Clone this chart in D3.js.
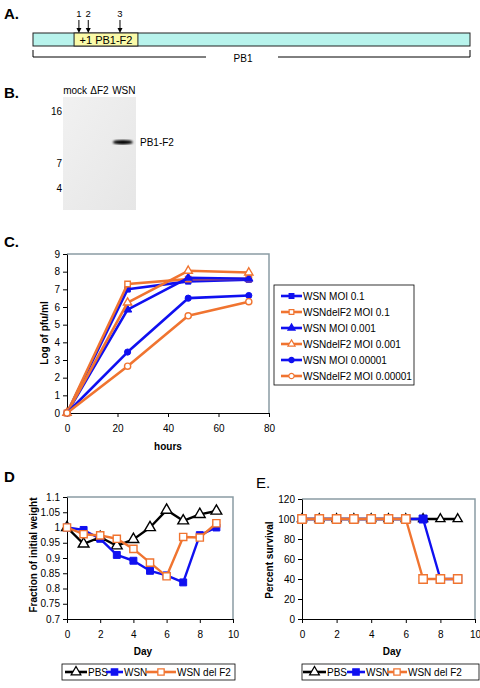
<!DOCTYPE html>
<html><head><meta charset="utf-8">
<script src="https://cdn.jsdelivr.net/npm/d3@7"></script>
<style>
body{margin:0;background:#fff;}
svg{display:block;font-family:"Liberation Sans",Arial,sans-serif;}
</style></head>
<body>
<svg id="fig" width="480" height="688"></svg>
<script>
// ---------- DATA ----------
// Panel A (nucleotide positions along PB1)
const pb1Length = 2341;
const pb1f2Span = [220, 562];
const arrowPositions = [246, 296, 466];
const arrowLabels = ["1", "2", "3"];
// Panel B (western blot)
const lanes = ["mock", "\u0394F2", "WSN"];
const bandIntensity = [0, 0, 1];
const markerKDa = [16, 7, 4];
const bandKDa = 10.6;
// Panel C (growth curves)
const hours = [0, 24, 48, 72];
const growthNames = ["WSN MOI 0.1", "WSNdelF2 MOI 0.1", "WSN MOI 0.001", "WSNdelF2 MOI 0.001", "WSN MOI 0.00001", "WSNdelF2 MOI 0.00001"];
const wsnMoi01 = [0, 7.0, 7.45, 7.55];
const delMoi01 = [0, 7.3, 7.58, 7.6];
const wsnMoi0001 = [0, 5.85, 7.65, 7.6];
const delMoi0001 = [0, 6.25, 8.05, 7.95];
const wsnMoi000001 = [0, 3.45, 6.5, 6.65];
const delMoi000001 = [0, 2.65, 5.5, 6.3];
const growthYTicks = [0,1,2,3,4,5,6,7,8,9];
const growthXTicks = [0,20,40,60,80];
// Panel D (weight)
const days = [0,1,2,3,4,5,6,7,8,9];
const mouseGroups = ["PBS", "WSN", "WSN del F2"];
const weightPBS = [1.0, 0.946, 0.968, 0.94, 0.961, 1.0, 1.057, 1.022, 1.043, 1.054];
const weightWSN = [1.0, 0.992, 0.963, 0.91, 0.891, 0.858, 0.843, 0.82, 0.975, 1.0];
const weightDel = [1.0, 0.978, 0.974, 0.963, 0.93, 0.885, 0.84, 0.969, 0.967, 1.014];
const weightTicks = [0.7,0.75,0.8,0.85,0.9,0.95,1,1.05,1.1];
const dayTicks = [0,2,4,6,8,10];
// Panel E (survival)
const survPBS = [100,100,100,100,100,100,100,100,100,100];
const survWSN = [100,100,100,100,100,100,100,100,40,40];
const survDel = [100,100,100,100,100,100,100,40,40,40];
const survTicks = [0,20,40,60,80,100,120];

// ---------- STYLE ----------
const BLUE = "#1010f0", ORANGE = "#f07430", BLACK = "#000";
const FRAME = "#8a9ca4";
const svg = d3.select("#fig");

function panelLabel(t, x, y, bold) {
  svg.append("text").attr("x", x).attr("y", y).text(t)
    .attr("font-size", 15).attr("font-weight", bold ? "bold" : "normal");
}

// ---------- PANEL A ----------
panelLabel("A.", 4, 19, true);
{
  const xa = d3.scaleLinear().domain([0, pb1Length]).range([33, 470]);
  const g = svg.append("g");
  g.append("rect").attr("x", xa(0)).attr("y", 33).attr("width", xa(pb1Length) - xa(0)).attr("height", 13)
    .attr("fill", "#b8f3ec").attr("stroke", "#222").attr("stroke-width", 1);
  g.append("rect").attr("x", xa(pb1f2Span[0])).attr("y", 33).attr("width", xa(pb1f2Span[1]) - xa(pb1f2Span[0])).attr("height", 13)
    .attr("fill", "#fafaa8").attr("stroke", "#222").attr("stroke-width", 1);
  g.append("text").attr("x", (xa(pb1f2Span[0]) + xa(pb1f2Span[1])) / 2).attr("y", 44)
    .attr("text-anchor", "middle").attr("font-size", 11).text("+1 PB1-F2");
  arrowPositions.forEach((p, i) => {
    const x = xa(p);
    g.append("line").attr("x1", x).attr("x2", x).attr("y1", 20).attr("y2", 30).attr("stroke", "#000").attr("stroke-width", 1);
    g.append("path").attr("d", `M${x-2.5},28 L${x+2.5},28 L${x},33 Z`).attr("fill", "#000");
    g.append("text").attr("x", x).attr("y", 17).attr("text-anchor", "middle").attr("font-size", 9.5).text(arrowLabels[i]);
  });
  const by = 57, gapL = 206, gapR = 278;
  g.append("path").attr("d", `M${xa(0)},${by-7} V${by} H${gapL} M${gapR},${by} H${xa(pb1Length)} V${by-7}`)
    .attr("fill", "none").attr("stroke", "#000").attr("stroke-width", 1);
  g.append("text").attr("x", 243).attr("y", 62).attr("text-anchor", "middle").attr("font-size", 10).text("PB1");
}

// ---------- PANEL B ----------
panelLabel("B.", 4, 98, true);
{
  const g = svg.append("g");
  const defs = svg.append("defs");
  const grad = defs.append("linearGradient").attr("id", "blotg").attr("x1", 0).attr("y1", 0).attr("x2", 1).attr("y2", 1);
  grad.append("stop").attr("offset", "0%").attr("stop-color", "#f1f1f1");
  grad.append("stop").attr("offset", "100%").attr("stop-color", "#e6e6e6");
  defs.append("filter").attr("id", "blur").append("feGaussianBlur").attr("stdDeviation", 0.8);
  const xb = d3.scaleBand().domain(lanes).range([63, 136]);
  const yb = d3.scaleLinear().domain(markerKDa).range([111, 163, 188]);
  g.append("rect").attr("x", 63).attr("y", 97).attr("width", 73).attr("height", 113).attr("fill", "url(#blotg)");
  g.selectAll(".lane").data(lanes).join("text")
    .attr("x", d => xb(d) + xb.bandwidth() / 2).attr("y", 94).attr("text-anchor", "middle")
    .attr("font-size", 10).text(d => d);
  g.selectAll(".mk").data(markerKDa).join("text")
    .attr("x", 62).attr("y", d => yb(d) + 3.5).attr("text-anchor", "end").attr("font-size", 10).text(d => d);
  g.selectAll(".band").data(lanes.filter((d, i) => bandIntensity[i] > 0)).join("ellipse")
    .attr("cx", d => xb(d) + xb.bandwidth() / 2 - 1).attr("cy", yb(bandKDa)).attr("rx", 10).attr("ry", 2.3)
    .attr("fill", "#000").attr("filter", "url(#blur)");
  g.append("text").attr("x", 140).attr("y", yb(bandKDa) + 3.5).attr("font-size", 10).text("PB1-F2");
}

// ---------- helpers ----------
function symbolPath(type, size) {
  const t = type === "square" ? d3.symbolSquare : type === "triangle" ? d3.symbolTriangle : d3.symbolCircle;
  return d3.symbol().type(t).size(size)();
}
function drawFrame(g, x0, x1, y0, y1) {
  g.append("path").attr("d", `M${x0},${y0} H${x1} V${y1}`).attr("fill", "none").attr("stroke", FRAME).attr("stroke-width", 1.5);
}
function styleAxis(sel) {
  sel.selectAll("text").attr("font-size", 10).attr("fill", "#000").attr("font-family", "Liberation Sans, Arial, sans-serif");
  sel.selectAll("path,line").attr("stroke", "#000");
}
function drawSeries(g, xs, ys, x, y, color, marker, size, filled, sw) {
  const pts = xs.map((d, i) => [x(d), y(ys[i])]);
  g.append("path").attr("d", d3.line()(pts)).attr("fill", "none").attr("stroke", color).attr("stroke-width", sw).attr("stroke-linejoin", "round");
  g.selectAll(null).data(pts).join("path")
    .attr("transform", d => `translate(${d[0]},${d[1]})`)
    .attr("d", symbolPath(marker, size))
    .attr("fill", filled ? color : "#fff").attr("stroke", color).attr("stroke-width", filled ? 1 : 1.4);
}

// ---------- PANEL C ----------
panelLabel("C.", 4, 247, true);
{
  const g = svg.append("g");
  const x = d3.scaleLinear().domain([0, 80]).range([67, 269]);
  const y = d3.scaleLinear().domain([0, 9]).range([413, 254]);
  drawFrame(g, 67, 269, 254, 413);
  const ax = g.append("g").attr("transform", "translate(0,413)")
    .call(d3.axisBottom(x).tickValues(growthXTicks).tickSize(4).tickSizeOuter(0).tickPadding(8));
  const ay = g.append("g").attr("transform", "translate(67,0)")
    .call(d3.axisLeft(y).tickValues(growthYTicks).tickSize(4).tickSizeOuter(0).tickPadding(3));
  styleAxis(ax); styleAxis(ay);
  g.append("text").attr("x", 168).attr("y", 450).attr("text-anchor", "middle").attr("font-size", 10).attr("font-weight", "bold").text("hours");
  g.append("text").attr("transform", "translate(48,333) rotate(-90)").attr("text-anchor", "middle").attr("font-size", 10).attr("font-weight", "bold").text("Log of pfu/ml");
  const series = [wsnMoi01, delMoi01, wsnMoi0001, delMoi0001, wsnMoi000001, delMoi000001];
  const colors = [BLUE, ORANGE, BLUE, ORANGE, BLUE, ORANGE];
  const markers = ["square", "square", "triangle", "triangle", "circle", "circle"];
  const filled = [true, false, true, false, true, false];
  series.forEach((s, i) => drawSeries(g, hours, s, x, y, colors[i], markers[i], 30, filled[i], 2.6));
  // legend
  const lg = g.append("g");
  lg.append("rect").attr("x", 274).attr("y", 285).attr("width", 140).attr("height", 100).attr("fill", "#fff").attr("stroke", "#000").attr("stroke-width", 0.8);
  growthNames.forEach((n, i) => {
    const yy = 296 + i * 16;
    lg.append("line").attr("x1", 281).attr("x2", 302).attr("y1", yy).attr("y2", yy).attr("stroke", colors[i]).attr("stroke-width", 2.6);
    lg.append("path").attr("transform", `translate(291.5,${yy})`).attr("d", symbolPath(markers[i], 22))
      .attr("fill", filled[i] ? colors[i] : "#fff").attr("stroke", colors[i]).attr("stroke-width", 1.2);
    lg.append("text").attr("x", 303).attr("y", yy + 3.5).attr("font-size", 10).text(n);
  });
}

// ---------- legend for D/E ----------
function groupLegend(g, x0, x1, segs) {
  g.append("rect").attr("x", x0).attr("y", 664).attr("width", x1 - x0).attr("height", 16).attr("fill", "#fff").attr("stroke", "#000").attr("stroke-width", 0.8);
  const colors = [BLACK, BLUE, ORANGE], markers = ["triangle", "square", "square"], filled = [false, true, false];
  mouseGroups.forEach((n, i) => {
    const s = segs[i], yy = 672;
    g.append("line").attr("x1", s[0]).attr("x2", s[1]).attr("y1", yy).attr("y2", yy).attr("stroke", colors[i]).attr("stroke-width", 2.6);
    g.append("path").attr("transform", `translate(${(s[0] + s[1]) / 2},${yy})`).attr("d", symbolPath(markers[i], 40))
      .attr("fill", filled[i] ? colors[i] : "#fff").attr("stroke", colors[i]).attr("stroke-width", 1.3);
    g.append("text").attr("x", s[1] + 1).attr("y", yy + 3.5).attr("font-size", 10).text(n);
  });
}

// ---------- PANEL D ----------
panelLabel("D", 4, 482, true);
{
  const g = svg.append("g");
  const x = d3.scaleLinear().domain([0, 10]).range([67, 233]);
  const y = d3.scaleLinear().domain([0.7, 1.1]).range([619, 497]);
  drawFrame(g, 67, 233, 497, 619);
  const ax = g.append("g").attr("transform", "translate(0,619)")
    .call(d3.axisBottom(x).tickValues(dayTicks).tickSize(4).tickSizeOuter(0).tickPadding(8));
  const ay = g.append("g").attr("transform", "translate(67,0)")
    .call(d3.axisLeft(y).tickValues(weightTicks).tickFormat(d => String(+d.toFixed(2))).tickSize(4).tickSizeOuter(0).tickPadding(3));
  styleAxis(ax); styleAxis(ay);
  g.append("text").attr("x", 143).attr("y", 655).attr("text-anchor", "middle").attr("font-size", 10).attr("font-weight", "bold").text("Day");
  g.append("text").attr("transform", "translate(37,555) rotate(-90)").attr("text-anchor", "middle").attr("font-size", 10).attr("font-weight", "bold").text("Fraction of initial weight");
  drawSeries(g, days, weightPBS, x, y, BLACK, "triangle", 50, false, 2.4);
  drawSeries(g, days, weightWSN, x, y, BLUE, "square", 48, true, 2.4);
  drawSeries(g, days, weightDel, x, y, ORANGE, "square", 52, false, 2.4);
  groupLegend(g, 62, 235, [[65, 87], [106, 123], [146, 176]]);
}

// ---------- PANEL E ----------
panelLabel("E.", 256, 488, false);
{
  const g = svg.append("g");
  const x = d3.scaleLinear().domain([0, 10]).range([302, 475]);
  const y = d3.scaleLinear().domain([0, 120]).range([619, 499]);
  drawFrame(g, 302, 475, 499, 619);
  const ax = g.append("g").attr("transform", "translate(0,619)")
    .call(d3.axisBottom(x).tickValues(dayTicks).tickSize(4).tickSizeOuter(0).tickPadding(8));
  const ay = g.append("g").attr("transform", "translate(302,0)")
    .call(d3.axisLeft(y).tickValues(survTicks).tickSize(4).tickSizeOuter(0).tickPadding(3));
  styleAxis(ax); styleAxis(ay);
  g.append("text").attr("x", 392).attr("y", 655).attr("text-anchor", "middle").attr("font-size", 10).attr("font-weight", "bold").text("Day");
  g.append("text").attr("transform", "translate(273,560) rotate(-90)").attr("text-anchor", "middle").attr("font-size", 10).attr("font-weight", "bold").text("Percent survival");
  drawSeries(g, days, survPBS, x, y, BLACK, "triangle", 36, false, 2.4);
  drawSeries(g, days, survWSN, x, y, BLUE, "square", 64, true, 2.4);
  drawSeries(g, days, survDel, x, y, ORANGE, "square", 70, false, 2.4);
  groupLegend(g, 302, 479, [[303, 326], [347, 365], [387, 407]]);
}
</script>
</body></html>
